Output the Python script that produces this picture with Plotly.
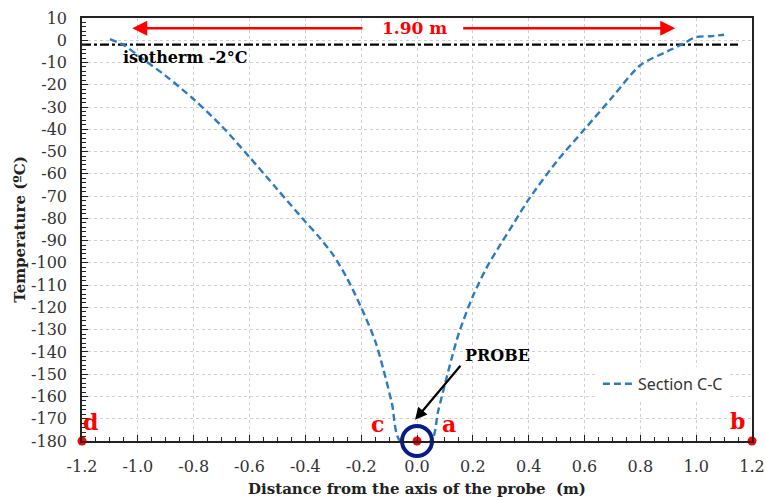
import plotly.graph_objects as go

# Section C-C temperature profile
dist_m = [-1.10, -1.05, -1.00, -0.90, -0.80, -0.70, -0.60, -0.50, -0.40, -0.35, -0.30, -0.25,
          -0.20, -0.15, -0.12, -0.09, -0.06,
          0.05, 0.075, 0.10, 0.125, 0.15, 0.20, 0.25, 0.30, 0.35, 0.40,
          0.50, 0.60, 0.70, 0.80, 0.90, 0.95, 1.00, 1.05, 1.10]
temp_c = [0.5, -2.2, -6.8, -16.0, -26.5, -38.5, -52.5, -67.0, -81.5, -88.5, -96.5, -107.0,
          -120.0, -135.0, -148.0, -163.0, -180.0,
          -180.0, -167.0, -154.5, -142.5, -131.5, -115.0, -102.0, -91.5, -81.5, -71.5,
          -54.5, -40.0, -25.5, -11.2, -4.8, -1.8, 1.5, 1.8, 2.5]

isotherm_x = [-1.2, 1.15]
isotherm_y = [-2, -2]

corner_x = [-1.2, 1.2]
corner_y = [-180, -180]
probe_x = [0.0]
probe_y = [-180]

x_ticks = [-1.2, -1.0, -0.8, -0.6, -0.4, -0.2, 0.0, 0.2, 0.4, 0.6, 0.8, 1.0, 1.2]
x_ticktext = ["-1.2", "-1.0", "-0.8", "-0.6", "-0.4", "-0.2", "0.0", "0.2", "0.4", "0.6", "0.8", "1.0", "1.2"]
y_ticks = list(range(10, -181, -10))
y_ticktext = [str(v) for v in y_ticks]

serif = "DejaVu Serif"
red = "#ff0000"

fig = go.Figure()

fig.add_trace(go.Scatter(x=isotherm_x, y=isotherm_y, mode="lines",
                         line=dict(color="black", width=2.2, dash="dashdot"),
                         showlegend=False, hoverinfo="skip"))

fig.add_trace(go.Scatter(x=dist_m, y=temp_c, mode="lines", name="Section C-C",
                         line=dict(color="#2a7ac4", width=2.4, dash="7px,4px",
                                   shape="spline", smoothing=0.8)))

fig.add_trace(go.Scatter(x=corner_x, y=corner_y, mode="markers",
                         marker=dict(color=red, size=9), cliponaxis=False,
                         showlegend=False, hoverinfo="skip"))
fig.add_trace(go.Scatter(x=probe_x, y=probe_y, mode="markers",
                         marker=dict(symbol="circle-open", color="#0a1a8a", size=30,
                                     line=dict(width=4, color="#0a1a8a")),
                         cliponaxis=False, showlegend=False, hoverinfo="skip"))
fig.add_trace(go.Scatter(x=probe_x, y=probe_y, mode="markers",
                         marker=dict(color=red, size=9), cliponaxis=False,
                         showlegend=False, hoverinfo="skip"))

annots = []
# 1.90 m dimension arrows
annots.append(dict(x=-1.02, y=5.4, ax=-0.19, ay=5.4, axref="x", ayref="y", xref="x", yref="y",
                   text="", showarrow=True, arrowhead=2, arrowsize=1.2, arrowwidth=2.5, arrowcolor=red))
annots.append(dict(x=0.925, y=5.4, ax=0.16, ay=5.4, axref="x", ayref="y", xref="x", yref="y",
                   text="", showarrow=True, arrowhead=2, arrowsize=1.2, arrowwidth=2.5, arrowcolor=red))
annots.append(dict(x=-0.01, y=5.4, xref="x", yref="y", text="<b>1.90 m</b>", showarrow=False,
                   font=dict(family=serif, size=17, color=red)))
annots.append(dict(x=-0.83, y=-7.6, xref="x", yref="y", text="<b>isotherm -2°C</b>", showarrow=False,
                   font=dict(family=serif, size=16, color="black")))
# probe arrow
annots.append(dict(x=-0.007, y=-170.5, ax=0.16, ay=-145.5, axref="x", ayref="y", xref="x", yref="y",
                   text="", showarrow=True, arrowhead=2, arrowsize=1.1, arrowwidth=2.2, arrowcolor="black"))
annots.append(dict(x=0.165, y=-141.5, xref="x", yref="y", text="<b>PROBE</b>", showarrow=False,
                   xanchor="left", font=dict(family=serif, size=16, color="black")))
for lx, ly, lt in [(-1.17, -171.5, "d"), (-0.14, -172.5, "c"), (0.115, -172.5, "a"), (1.148, -171, "b")]:
    annots.append(dict(x=lx, y=ly, xref="x", yref="y", text="<b>" + lt + "</b>", showarrow=False,
                       font=dict(family=serif, size=22, color=red)))

fig.update_layout(
    width=765, height=500,
    margin=dict(l=82, r=13, t=18, b=59),
    paper_bgcolor="white", plot_bgcolor="white",
    annotations=annots,
    legend=dict(x=0.77, y=0.135, xanchor="left", yanchor="middle", itemwidth=30,
                bgcolor="white", font=dict(family="Noto Sans", size=16, color="#333333")),
    xaxis=dict(range=[-1.2, 1.2], tickvals=x_ticks, ticktext=x_ticktext,
               showline=True, linecolor="#222222", linewidth=1.5, mirror=True,
               ticks="inside", ticklen=6, tickwidth=1.3, tickcolor="#222222",
               minor=dict(dtick=0.05, ticks="inside", ticklen=4, tickwidth=1.2, tickcolor="#222222", showgrid=False),
               showgrid=True, gridcolor="#d0d0d0", griddash="dot", gridwidth=1,
               zeroline=False, ticklabelstandoff=10, automargin=False,
               tickfont=dict(family=serif, size=16, color="#333333"),
               title=dict(text="<b>Distance from the axis of the probe  (m)</b>", standoff=9,
                          font=dict(family=serif, size=15, color="#222222"))),
    yaxis=dict(range=[-180, 10], tickvals=y_ticks, ticktext=y_ticktext,
               showline=True, linecolor="#222222", linewidth=1.5, mirror=True,
               ticks="inside", ticklen=6, tickwidth=1.3, tickcolor="#222222",
               minor=dict(dtick=2, ticks="inside", ticklen=4, tickwidth=1.2, tickcolor="#222222", showgrid=False),
               showgrid=True, gridcolor="#d0d0d0", griddash="dot", gridwidth=1,
               zeroline=False, ticklabelstandoff=10, automargin=False,
               tickfont=dict(family=serif, size=16, color="#333333"),
               title=dict(text="<b>Temperature (ºC)</b>", standoff=2,
                          font=dict(family=serif, size=15, color="#222222"))),
)

fig.write_html("out.html")
